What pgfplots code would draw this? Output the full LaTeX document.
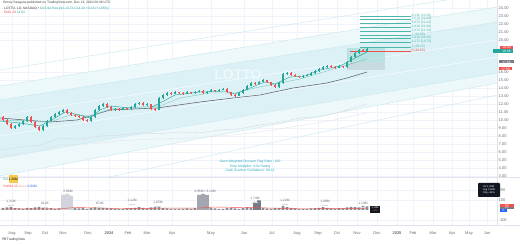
\documentclass[border=0pt]{standalone}
\usepackage{pgfplots}
\pgfplotsset{compat=1.18}
\usepackage{pgfplotstable}
\usepackage{fontspec}
\setmainfont{Liberation Sans}

\definecolor{tvgreen}{HTML}{26A69A}
\definecolor{tvred}{HTML}{EF5350}
\definecolor{bandfill}{HTML}{DCF1F5}
\definecolor{bandlite}{HTML}{EDF8FA}
\definecolor{bandline}{HTML}{C6E7EC}
\definecolor{gridc}{HTML}{F0F3FA}
\definecolor{sepc}{HTML}{E0E3EB}
\definecolor{axtxt}{HTML}{6A6D78}
\definecolor{fibc}{HTML}{4DB6AC}
\definecolor{maslow}{HTML}{80CBC4}
\definecolor{malong}{HTML}{5D606B}
\definecolor{faint}{HTML}{D5D8DF}
\definecolor{notec}{HTML}{22A6B8}
\definecolor{tvdark}{HTML}{131722}
\definecolor{vsmall}{HTML}{8A8D96}
\definecolor{vlight}{HTML}{D1D4DC}
\definecolor{vmid}{HTML}{A3A6AF}
\definecolor{vdark}{HTML}{787B86}
\definecolor{tvblue}{HTML}{2962FF}
\definecolor{tvorange}{HTML}{F7C948}

\newcommand{\tsz}{\fontsize{4}{4.6}\selectfont}
\newcommand{\ssz}{\fontsize{3.3}{3.8}\selectfont}

% candle mark: wick from low to high, body from open to close (8pt per price unit)
\pgfdeclareplotmark{candle}{%
  \pgfpathmoveto{\pgfpoint{0pt}{\cL pt}}%
  \pgfpathlineto{\pgfpoint{0pt}{\cH pt}}%
  \pgfsetlinewidth{0.45pt}%
  \pgfusepathqstroke
  \pgfpathrectanglecorners{\pgfpoint{-1.3pt}{\cO pt}}{\pgfpoint{1.3pt}{0pt}}%
  \pgfusepathqfill
}

\pgfplotstableread{
x o h l c
15 9.00 9.40 8.90 9.25
19 9.25 9.65 9.15 9.50
23 9.50 10.00 9.40 9.88
27 9.88 10.55 9.80 10.38
43 8.75 9.35 8.65 9.25
47 9.25 10.00 9.15 9.88
51 9.88 10.50 9.80 10.38
55 10.38 10.90 10.30 10.75
59 10.75 11.15 10.65 11.00
63 11.00 11.40 10.90 11.25
91 9.88 10.45 9.80 10.38
95 10.38 11.35 10.30 11.25
99 11.25 11.85 11.15 11.75
103 11.75 12.15 11.65 12.00
115 11.25 11.50 11.15 11.38
123 11.25 11.60 11.20 11.50
131 11.38 11.70 11.30 11.63
135 11.63 12.10 11.55 12.00
139 12.00 12.30 11.90 12.13
147 11.88 12.10 11.80 12.00
159 11.25 12.85 11.20 12.75
163 12.75 13.25 12.65 13.13
167 13.13 13.50 13.05 13.38
175 13.25 13.60 13.20 13.50
187 13.25 13.60 13.20 13.50
195 13.38 13.60 13.30 13.50
199 13.50 13.75 13.45 13.63
207 13.38 13.60 13.30 13.50
211 13.50 13.85 13.45 13.75
219 13.63 13.85 13.55 13.75
223 13.75 14.00 13.70 13.88
239 13.00 13.45 12.95 13.38
243 13.38 13.85 13.30 13.75
247 13.75 14.35 13.70 14.25
251 14.25 14.75 14.20 14.63
259 14.50 14.85 14.45 14.75
263 14.75 15.10 14.70 15.00
279 14.13 14.70 14.05 14.63
283 14.63 15.90 14.55 15.75
287 15.75 16.00 15.65 15.88
303 15.38 15.60 15.30 15.50
307 15.50 15.75 15.45 15.63
311 15.63 16.00 15.55 15.88
315 15.88 16.25 15.80 16.13
319 16.13 16.50 16.05 16.38
323 16.38 16.75 16.30 16.63
327 16.63 16.90 16.55 16.75
339 16.50 16.85 16.45 16.75
347 16.63 17.35 16.55 17.25
351 17.25 18.00 17.20 17.88
355 17.88 18.50 17.80 18.38
359 18.38 18.90 18.30 18.75
367 18.63 19.00 18.55 18.88
}\greentab

\pgfplotstableread{
x o h l c
3 10.40 10.55 9.85 10.00
7 10.00 10.10 9.35 9.50
11 9.50 9.60 8.85 9.00
31 10.38 10.45 9.65 9.75
35 9.75 9.85 9.00 9.13
39 9.13 9.20 8.60 8.75
67 11.25 11.35 10.80 10.88
71 10.88 10.95 10.55 10.63
75 10.63 10.70 10.40 10.50
79 10.50 10.60 10.25 10.38
83 10.38 10.45 9.85 10.00
87 10.00 10.10 9.75 9.88
107 12.00 12.10 11.55 11.63
111 11.63 11.70 11.15 11.25
119 11.38 11.45 11.15 11.25
127 11.50 11.55 11.30 11.38
143 12.13 12.20 11.80 11.88
151 12.00 12.05 11.30 11.38
155 11.38 11.45 11.10 11.25
171 13.38 13.45 13.15 13.25
179 13.50 13.55 13.30 13.38
183 13.38 13.45 13.15 13.25
191 13.50 13.55 13.30 13.38
203 13.63 13.70 13.30 13.38
215 13.75 13.80 13.55 13.63
227 13.88 13.95 13.40 13.50
231 13.50 13.55 13.00 13.13
235 13.13 13.20 12.90 13.00
255 14.63 14.70 14.40 14.50
267 15.00 15.05 14.65 14.75
271 14.75 14.80 14.30 14.38
275 14.38 14.45 14.00 14.13
291 15.88 15.95 15.55 15.63
295 15.63 15.70 15.40 15.50
299 15.50 15.55 15.30 15.38
331 16.75 16.85 16.55 16.63
335 16.63 16.70 16.40 16.50
343 16.75 16.80 16.55 16.63
363 18.75 18.85 18.50 18.63
}\redtab

\pgfplotstableread{
x v
3 20
7 25
11 30
15 18
19 15
23 12
27 22
31 18
35 25
39 30
43 20
47 15
51 18
55 12
59 15
75 20
79 15
83 18
87 12
91 20
95 25
99 30
103 22
107 18
111 15
115 10
119 12
123 10
127 15
131 18
135 22
139 28
143 20
147 15
151 25
155 30
159 35
163 22
167 15
171 12
175 10
179 12
183 10
187 15
191 12
195 18
211 20
215 15
219 12
223 10
227 18
231 22
235 15
239 12
243 18
247 25
251 20
263 22
267 15
271 12
275 18
279 20
283 40
287 30
291 20
295 15
299 12
303 10
307 12
311 15
315 18
319 20
323 28
327 22
331 15
335 12
339 18
343 15
347 25
351 30
355 28
359 25
363 40
367 35
}\volsmall

\begin{document}
\begin{tikzpicture}[x=1pt,y=1pt]
\useasboundingbox (0,0) rectangle (520,244);
\fill[white] (0,0) rectangle (520,244);

% ---------------- price panel ----------------
\begin{axis}[
  at={(0pt,67pt)}, anchor=south west, scale only axis,
  width=497pt, height=177pt,
  xmin=0, xmax=497, ymin=2.875, ymax=25,
  axis line style={draw=none}, tick style={draw=none},
  xtick={12,28,45,63,88,109,128,147,172,211,244,272,297,318,337,357,377,397,413,433,452,469,487},
  xticklabels={},
  ytick={3,4,...,16,20,21,22,23,24},
  yticklabel pos=right,
  yticklabel={\pgfmathprintnumber[fixed,fixed zerofill,precision=2,assume math mode=true]{\tick}},
  yticklabel style={font=\tsz, text=axtxt, inner sep=1.5pt},
  grid=major, major grid style={gridc, line width=0.3pt},
]
% channel bands
\addplot[draw=none, fill=bandlite] coordinates {(0,14.25) (497,24.125) (497,22.25) (0,12.5)};
\addplot[draw=none, fill=bandfill] coordinates {(0,12.5) (497,22.25) (497,15.875) (0,5.25)};
\addplot[draw=none, fill=bandlite] coordinates {(0,5.25) (497,15.875) (497,14.625) (0,3.0)};
\addplot[bandline, line width=0.4pt] coordinates {(0,16.25) (497,26.0)};
\addplot[bandline, line width=0.4pt] coordinates {(0,14.25) (497,24.125)};
\addplot[bandline, line width=0.4pt] coordinates {(0,12.5) (497,22.25)};
\addplot[white, line width=0.4pt] coordinates {(0,10.625) (497,20.0)};
\addplot[white, line width=0.4pt] coordinates {(0,8.0) (497,17.875)};
\addplot[bandline, line width=0.4pt] coordinates {(0,5.25) (497,15.875)};
\addplot[bandline, line width=0.4pt] coordinates {(0,3.0) (497,14.625)};
\addplot[bandline, line width=0.4pt] coordinates {(0,0.0) (497,13.125)};

% watermark
\node[font=\fontsize{14}{14}\selectfont\bfseries, text=white, opacity=0.5] at (axis cs:238,15.7) {LOTTO};

% faint indicator lines
\addplot[faint, line width=0.4pt] coordinates {(0,6.25) (20,6.6) (40,6.875) (60,7.75) (80,7.6) (100,8.0) (120,8.1) (140,8.375) (160,8.3) (180,8.5) (200,8.4) (220,8.75) (240,8.9) (260,9.375) (280,9.7) (300,10.25) (320,10.4) (340,11.0) (367,12.0)};
\addplot[faint!70!white, line width=0.4pt] coordinates {(0,5.5) (30,5.9) (60,6.9) (90,7.0) (120,7.4) (150,7.6) (180,7.7) (210,7.9) (240,8.2) (270,8.7) (300,9.3) (330,9.9) (367,10.9)};

% moving averages
\addplot[malong, line width=0.55pt] coordinates {(0,10.25) (25,10.0) (50,9.75) (77,10.0) (110,11.25) (157,11.5) (200,12.25) (233,12.75) (260,13.125) (293,14.0) (327,14.625) (347,15.25) (367,16.0)};
\addplot[maslow, line width=0.45pt] coordinates {(0,10.0) (30,9.875) (50,9.75) (70,10.625) (90,10.5) (110,11.375) (140,11.625) (160,11.75) (180,12.75) (210,13.375) (235,13.375) (255,14.0) (280,14.625) (300,15.125) (330,16.25) (367,17.625)};
\addplot[tvgreen, line width=0.45pt] coordinates {(0,9.875) (20,9.625) (40,9.25) (55,10.25) (65,11.0) (80,10.625) (90,10.25) (100,11.25) (110,11.75) (130,11.5) (150,11.5) (160,12.125) (175,13.125) (200,13.5) (225,13.625) (235,13.25) (250,14.0) (265,14.75) (275,14.5) (290,15.375) (305,15.5) (320,16.25) (340,16.75) (355,17.75) (367,18.5)};

% position box
\addplot[draw=none, fill=tvgreen, fill opacity=0.2] coordinates {(347,19.0) (385,19.0) (385,17.25) (347,17.25)};
\addplot[draw=none, fill=black, fill opacity=0.09] coordinates {(347,17.25) (385,17.25) (385,16.25) (347,16.25)};

% fibonacci levels
\addplot[fibc, line width=0.4pt] coordinates {(360,23.0) (411,23.0)};
\addplot[fibc, line width=0.4pt] coordinates {(360,22.625) (411,22.625)};
\addplot[fibc, line width=0.4pt] coordinates {(360,22.125) (411,22.125)};
\addplot[fibc, line width=0.4pt] coordinates {(360,21.625) (411,21.625)};
\addplot[fibc, line width=0.4pt] coordinates {(360,21.125) (411,21.125)};
\addplot[fibc, line width=0.4pt] coordinates {(360,20.625) (411,20.625)};
\addplot[fibc, line width=0.4pt] coordinates {(360,20.25) (411,20.25)};
\addplot[fibc, line width=0.4pt] coordinates {(360,19.75) (411,19.75)};
\addplot[fibc, line width=0.4pt] coordinates {(360,19.125) (411,19.125)};
\addplot[tvred, line width=0.45pt] coordinates {(350,18.625) (411,18.625)};
\foreach \lv/\lab in {23.0/4.236 (23.00), 22.625/3.618 (22.63), 22.125/3.272 (22.13), 21.625/2.618 (21.63), 21.125/2.272 (21.13), 20.625/2 (20.63), 20.25/1.618 (20.25), 19.75/1.272 (19.75), 19.125/1 (19.13)}{
  \edef\tmp{\noexpand\node[anchor=west, font=\noexpand\ssz, text=fibc, inner sep=0.5pt] at (axis cs:411,\lv) {\lab};}\tmp
}
\node[anchor=west, font=\ssz, text=tvred, inner sep=0.5pt] at (axis cs:411,18.625) {0 (18.63)};

% candles
\addplot[tvgreen, only marks, mark=candle,
  visualization depends on={8*(\thisrow{h}-\thisrow{c}) \as \cH},
  visualization depends on={8*(\thisrow{l}-\thisrow{c}) \as \cL},
  visualization depends on={8*(\thisrow{o}-\thisrow{c}) \as \cO}]
  table[x=x, y=c] {\greentab};
\addplot[tvred, only marks, mark=candle,
  visualization depends on={8*(\thisrow{h}-\thisrow{c}) \as \cH},
  visualization depends on={8*(\thisrow{l}-\thisrow{c}) \as \cL},
  visualization depends on={8*(\thisrow{o}-\thisrow{c}) \as \cO}]
  table[x=x, y=c] {\redtab};
\end{axis}

% ---------------- volume panel ----------------
\begin{axis}[
  at={(0pt,19pt)}, anchor=south west, scale only axis,
  width=497pt, height=48pt,
  xmin=0, xmax=497, ymin=-150, ymax=330,
  axis line style={draw=none}, tick style={draw=none},
  xtick={12,28,45,63,88,109,128,147,172,211,244,272,297,318,337,357,377,397,413,433,452,469,487},
  xticklabels={Aug,Sep,Oct,Nov,Dec,\textbf{2024},Feb,Mar,Apr,May,Jun,Jul,Aug,Sep,Oct,Nov,Dec,\textbf{2025},Feb,Mar,Apr,May,Jun},
  xticklabel style={font=\tsz, text=axtxt, yshift=-3pt},
  ytick={-100,100,200},
  yticklabel pos=right,
  yticklabel={\pgfmathprintnumber[assume math mode=true]{\tick}},
  yticklabel style={font=\tsz, text=axtxt, inner sep=1.5pt},
  grid=major, major grid style={gridc, line width=0.3pt},
]
\addplot[ybar, bar shift=0pt, bar width=2.6pt, fill=vsmall, draw=none] table[x=x, y=v] {\volsmall};
\addplot[ybar, bar shift=0pt, bar width=3.6pt, fill=vlight, draw=none] coordinates {(63,150) (67,160) (71,140)};
\addplot[ybar, bar shift=0pt, bar width=3.6pt, fill=vmid, draw=none] coordinates {(199,150) (203,160) (207,150)};
\addplot[ybar, bar shift=0pt, bar width=3.6pt, fill=vdark, draw=none] coordinates {(255,80) (259,95)};
\addplot[tvred, line width=0.45pt] coordinates {(0,10) (60,12) (75,25) (120,15) (200,20) (215,30) (260,22) (300,12) (367,15)};
\foreach \xx/\yy/\lab in {11/70/1.31M, 45/55/912K, 100/55/874K, 132/80/1.12M, 158/60/1.05M, 68/175/2.86M, 255/105/1.74M, 285/80/1.22M, 325/70/1.08M, 363/55/1.19M}{
  \edef\tmp{\noexpand\node[font=\noexpand\ssz, text=axtxt, inner sep=0.3pt, align=center] at (axis cs:\xx,\yy) {\lab\noexpand\\[-1pt]\noexpand\textcolor{faint}{\noexpand\rule{6pt}{0.3pt}}};}\tmp
}
\node[font=\ssz, text=axtxt, inner sep=0.3pt] at (axis cs:205,190) {2.95M \textbullet\ 3.10M};
\end{axis}

% separators
\draw[sepc, line width=0.4pt] (0,67) -- (520,67);
\draw[sepc, line width=0.4pt] (0,19) -- (520,19);
\draw[sepc, line width=0.4pt] (497,19) -- (497,244);

% header
\node[anchor=west, font=\ssz, text=black!75, inner sep=0pt] at (3,241) {Kenny Saegusa published on TradingView.com, Dec 13, 2024 02:49 UTC};
\node[anchor=west, font=\ssz, inner sep=0pt] at (4,235.5) {\textcolor{black!75}{LOTTO, 1D, NASDAQ\,\,\textbullet} \textcolor{tvgreen}{O13.94 H14.19 L13.73 C14.13 +0.23 (+1.65\%)}};
\node[anchor=west, font=\ssz, inner sep=0pt] at (4,232) {\textcolor{tvred}{EMA 20} \textcolor{tvgreen}{14.02}};

% note text
\node[font=\ssz, text=notec, align=center, inner sep=0pt] at (250,78) {Gann Weighted Discount Flag Ratio / 100\\[0.6pt] Price Multiplier: 8.9x Rating\\[0.6pt] Cash Scanner Confidence: 90.12};

% volume legend
\node[anchor=west, font=\ssz, inner sep=0pt] at (3,65) {\textcolor{tvgreen}{Vol} \colorbox{tvorange}{\rule{0pt}{2pt}\kern-3pt 1.26M\kern-3pt}};
\node[anchor=west, font=\ssz, inner sep=0pt] at (3,58) {\textcolor{tvred}{VWMA 20} \textcolor{tvred!60}{close} \textcolor{tvblue}{0.94M}};

% price tags
\fill[tvred] (500,194.7) rectangle (513,198);
\node[font=\ssz, text=white, inner sep=0pt] at (506.5,196.35) {19.00};
\fill[tvgreen] (493,191.3) rectangle (513,194.7);
\node[font=\ssz, text=white, inner sep=0pt] at (506.5,193) {18.88};
\fill[vdark] (499,180.5) rectangle (514,183.5);
\node[font=\ssz, text=white, inner sep=0pt] at (506.5,182) {17.88};
\fill[tvred] (499,173.5) rectangle (512,176.5);
\node[font=\ssz, text=white, inner sep=0pt] at (505.5,175) {17.00};
% volume tags
\fill[tvred] (500,37.5) rectangle (514,40.5);
\node[font=\ssz, text=white, inner sep=0pt] at (507,39) {52};
\fill[vdark] (500,34.8) rectangle (514,37.5);
\node[font=\ssz, text=white, inner sep=0pt] at (507,36.2) {21};
\fill[tvblue] (500,32) rectangle (507,34.8);
\node[font=\ssz, text=white, inner sep=0pt] at (503.5,33.4) {0};

% dark boxes
\fill[tvdark] (370,31) rectangle (380,38);
\node[font=\fontsize{2.5}{2.8}\selectfont, text=white, align=center, inner sep=0pt] at (375,34.5) {1.19M\\ \textcolor{tvred}{+4\%}};
\fill[tvdark, rounded corners=0.8pt] (478,47) rectangle (500,61);
\node[font=\fontsize{2.5}{3.2}\selectfont, text=white, align=left, inner sep=0pt] at (489,54) {Vol 1.26M\\ Avg 0.94M\\ Chg +34\%};

% logo
\node[anchor=west, font=\ssz, text=black!80, inner sep=0pt] at (2,4) {\textbf{TV}\,TradingView};
\end{tikzpicture}
\end{document}
